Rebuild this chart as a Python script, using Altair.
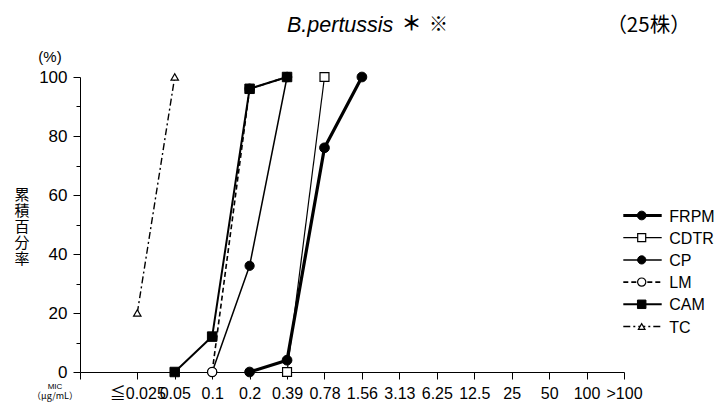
import json

import altair as alt
import pandas as pd

# MIC dilution steps on the x axis (μg/mL)
mic_steps = ["≦0.025", "0.05", "0.1", "0.2", "0.39", "0.78", "1.56",
             "3.13", "6.25", "12.5", "25", "50", "100", ">100"]

# Cumulative percentage of strains inhibited at each MIC, per drug
frpm_mic = ["0.2", "0.39", "0.78", "1.56"]
frpm_pct = [0, 4, 76, 100]
cdtr_mic = ["0.39", "0.78"]
cdtr_pct = [0, 100]
cp_mic = ["0.1", "0.2", "0.39"]
cp_pct = [0, 36, 100]
lm_mic = ["0.1", "0.2", "0.39"]
lm_pct = [0, 96, 100]
cam_mic = ["0.05", "0.1", "0.2", "0.39"]
cam_pct = [0, 12, 96, 100]
tc_mic = ["≦0.025", "0.05"]
tc_pct = [20, 100]

drugs = ["FRPM", "CDTR", "CP", "LM", "CAM", "TC"]
drug_data = {
    "FRPM": (frpm_mic, frpm_pct),
    "CDTR": (cdtr_mic, cdtr_pct),
    "CP": (cp_mic, cp_pct),
    "LM": (lm_mic, lm_pct),
    "CAM": (cam_mic, cam_pct),
    "TC": (tc_mic, tc_pct),
}

# line / marker styling per drug
styles = {
    "FRPM": {"sw": 3.2, "dash": None, "shape": "circle", "open": False, "size": 95},
    "CDTR": {"sw": 1.2, "dash": None, "shape": "square", "open": True, "size": 80},
    "CP": {"sw": 1.5, "dash": None, "shape": "circle", "open": False, "size": 85},
    "LM": {"sw": 1.6, "dash": [5, 3], "shape": "circle", "open": True, "size": 85},
    "CAM": {"sw": 2.0, "dash": None, "shape": "square", "open": False, "size": 90},
    "TC": {"sw": 1.4, "dash": [7, 3, 2, 3], "shape": "triangle-up", "open": True, "size": 55},
}
# stacking order of the markers (last one ends up on top)
marker_order = ["CP", "FRPM", "CDTR", "TC", "LM", "CAM"]

FONT = "Liberation Sans, Arial, Noto Sans CJK JP, sans-serif"
JP_FONT = "Noto Sans CJK JP, sans-serif"
W, H = 544, 295
X_MIN = -1.53

label_js = json.dumps(mic_steps, ensure_ascii=False)
x_enc = alt.X(
    "idx:Q",
    scale=alt.Scale(domain=[X_MIN, len(mic_steps) - 1], nice=False, zero=False),
    axis=alt.Axis(
        values=[X_MIN] + list(range(len(mic_steps))),
        labelExpr=f"datum.value < 0 ? '' : {label_js}[datum.value]",
        labelOverlap=False, labelFlush=False, labelBound=False,
        tickSize=7, labelPadding=6, title=None, grid=False,
    ),
)
y_enc = alt.Y(
    "pct:Q",
    scale=alt.Scale(domain=[0, 100], nice=False),
    axis=alt.Axis(
        values=list(range(0, 101, 10)),
        labelExpr="datum.value % 20 === 0 ? datum.label : ''",
        tickSize={"condition": {"test": "datum.value % 20 === 0", "value": 7}, "value": 4},
        labelFlush=False, labelPadding=6, labelFontSize=17, title=None, grid=False,
    ),
)


def drug_frame(name):
    mics, pcts = drug_data[name]
    return pd.DataFrame({
        "drug": name,
        "mic": mics,
        "idx": [mic_steps.index(m) for m in mics],
        "pct": pcts,
    })


def point_mark(st):
    if st["open"]:
        return dict(shape=st["shape"], size=st["size"], filled=True, fill="white",
                    stroke="black", strokeWidth=1.2, opacity=1)
    return dict(shape=st["shape"], size=st["size"], filled=True, fill="black",
                stroke="black", strokeWidth=1, opacity=1)


line_layers, point_layers = [], []
for d in drugs:
    st = styles[d]
    lm = dict(color="black", strokeWidth=st["sw"])
    if st["dash"]:
        lm["strokeDash"] = st["dash"]
    line_layers.append(
        alt.Chart(drug_frame(d)).mark_line(**lm).encode(x=x_enc, y=y_enc, order="idx:Q"))
for d in marker_order:
    point_layers.append(
        alt.Chart(drug_frame(d)).mark_point(**point_mark(styles[d])).encode(x=x_enc, y=y_enc))

# hand-drawn legend on the right
legend_layers = []
LEG_Y0, LEG_DY = 138.5, 22.2
for i, d in enumerate(drugs):
    st = styles[d]
    ly = LEG_Y0 + LEG_DY * i
    one = alt.Chart(pd.DataFrame({"drug": [d]}))
    rm = dict(color="black", strokeWidth=st["sw"])
    if st["dash"]:
        rm["strokeDash"] = st["dash"]
    legend_layers.append(one.mark_rule(**rm).encode(
        x=alt.value(543.3), x2=alt.value(581.7), y=alt.value(ly)))
    pm = point_mark(st)
    pm["size"] = pm["size"] * 0.8
    legend_layers.append(one.mark_point(**pm).encode(x=alt.value(561.7), y=alt.value(ly)))
    legend_layers.append(one.mark_text(
        align="left", baseline="middle", font=FONT, fontSize=16, color="black"
    ).encode(x=alt.value(589.3), y=alt.value(ly + 1), text="drug:N"))


def note(text, x, y, **kw):
    opts = dict(font=FONT, fontSize=16, color="black", align="center", baseline="middle")
    opts.update(kw)
    return alt.Chart(pd.DataFrame({"t": [0]})).mark_text(text=text, **opts).encode(
        x=alt.value(x), y=alt.value(y))


# vertical y-axis caption, one character per row
y_caption = ["累", "積", "百", "分", "率"]

notes = [
    note("B.pertussis", 207, -45.5, align="left", baseline="alphabetic",
         fontSize=21.5, fontStyle="italic"),
    note("＊", 331.5, -52, font=JP_FONT, fontSize=20, fontWeight="bold"),
    note("※", 358.5, -52, font=JP_FONT, fontSize=19, fontWeight="bold"),
    note("（25株）", 568.5, -45.5, baseline="alphabetic", font=JP_FONT, fontSize=20.5),
    note("(%)", -30, -20, fontSize=15),
    note("MIC", -25, 309.5, fontSize=8),
    note("（μg/mL）", -25, 318.5, font=JP_FONT, fontSize=9),
] + [
    note(ch, -58, 118 + 16 * k, font=JP_FONT, fontSize=15)
    for k, ch in enumerate(y_caption)
]

chart = alt.layer(
    *line_layers, *point_layers, *legend_layers, *notes
).properties(
    width=W, height=H,
    padding={"left": 80, "top": 77, "right": 98, "bottom": 31},
    autosize=alt.AutoSizeParams(type="none"),
).configure_view(
    stroke=None
).configure_axis(
    domainColor="black", tickColor="black", labelColor="black",
    labelFont=FONT, labelFontSize=16, domainWidth=1, tickWidth=1,
)

chart.save("out.html", embed_options={"renderer": "svg", "actions": False})
